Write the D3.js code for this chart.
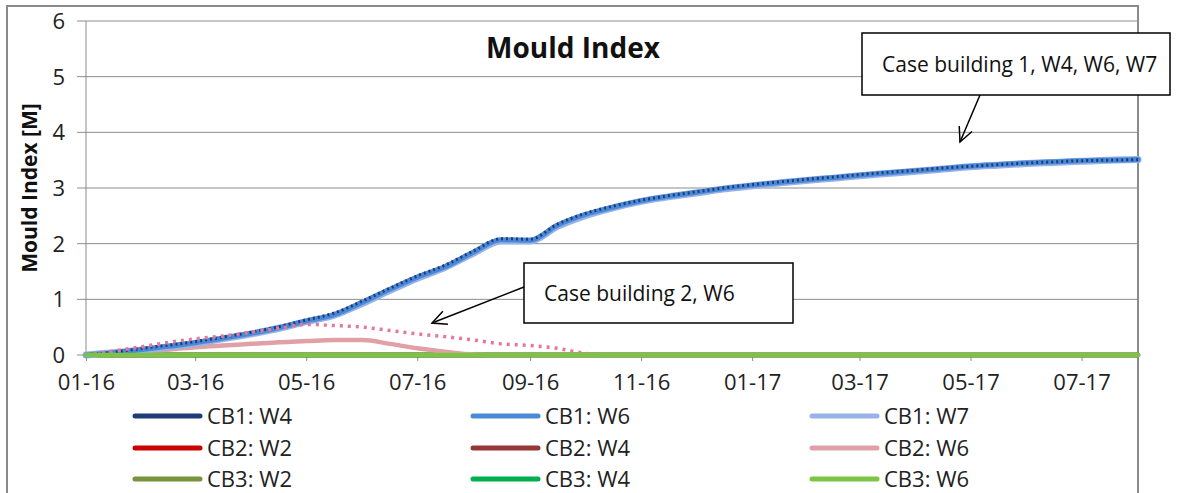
<!DOCTYPE html>
<html>
<head>
<meta charset="utf-8">
<script src="https://cdn.jsdelivr.net/npm/d3@7"></script>
<style>
  body { margin: 0; background: #fff; }
  svg { display: block; font-family: "Open Sans", sans-serif; }
</style>
</head>
<body>
<svg id="chart"></svg>
<script>
// semi-monthly sample dates
var dates = [
  "2016-01-01", "2016-01-16", "2016-02-01", "2016-02-16", "2016-03-01", "2016-03-16",
  "2016-04-01", "2016-04-16", "2016-05-01", "2016-05-16", "2016-06-01", "2016-06-16",
  "2016-07-01", "2016-07-16", "2016-08-01", "2016-08-16", "2016-09-01", "2016-09-16",
  "2016-10-01", "2016-10-16", "2016-11-01", "2016-11-16", "2016-12-01", "2016-12-16",
  "2017-01-01", "2017-01-16", "2017-02-01", "2017-02-16", "2017-03-01", "2017-03-16",
  "2017-04-01", "2017-04-16", "2017-05-01", "2017-05-16", "2017-06-01", "2017-06-16",
  "2017-07-01", "2017-07-16", "2017-08-01"
];

var cb1W4 = [0, 0.05, 0.12, 0.18, 0.24, 0.32, 0.41, 0.51, 0.63, 0.75, 0.97, 1.2, 1.42, 1.61, 1.87, 2.09,
  2.08, 2.35, 2.54, 2.67, 2.78, 2.86, 2.93, 3.0, 3.06, 3.11, 3.16, 3.2, 3.24, 3.28, 3.32, 3.36,
  3.39, 3.42, 3.45, 3.47, 3.49, 3.5, 3.51];
var cb1W6 = [0, 0.04, 0.1, 0.16, 0.22, 0.3, 0.39, 0.49, 0.61, 0.72, 0.95, 1.18, 1.4, 1.58, 1.85, 2.07,
  2.06, 2.33, 2.52, 2.65, 2.77, 2.85, 2.92, 2.99, 3.05, 3.1, 3.15, 3.19, 3.23, 3.27, 3.31, 3.35,
  3.39, 3.42, 3.45, 3.47, 3.49, 3.5, 3.51];
var cb1W7 = [0, 0.04, 0.09, 0.15, 0.21, 0.29, 0.38, 0.48, 0.6, 0.71, 0.93, 1.16, 1.38, 1.57, 1.83, 2.05,
  2.05, 2.31, 2.5, 2.64, 2.76, 2.84, 2.91, 2.98, 3.04, 3.09, 3.14, 3.18, 3.22, 3.26, 3.3, 3.34,
  3.38, 3.41, 3.44, 3.46, 3.48, 3.5, 3.51];
var cb2W6 = [0, 0.03, 0.07, 0.1, 0.14, 0.17, 0.2, 0.23, 0.25, 0.27, 0.27, 0.2, 0.12, 0.06, 0.01, 0,
  0, 0, 0, 0, 0, 0, 0, 0, 0, 0, 0, 0, 0, 0, 0, 0, 0, 0, 0, 0, 0, 0, 0];
var cb2W6Dotted = [0, 0.07, 0.15, 0.23, 0.29, 0.34, 0.41, 0.48, 0.55, 0.53, 0.5, 0.44, 0.38, 0.33, 0.27, 0.2,
  0.17, 0.12, 0.03, 0, 0, 0, 0, 0, 0, 0, 0, 0, 0, 0, 0, 0, 0, 0, 0, 0, 0, 0, 0];
var zeros = [0, 0, 0, 0, 0, 0, 0, 0, 0, 0, 0, 0, 0, 0, 0, 0, 0, 0, 0, 0, 0, 0, 0, 0, 0, 0, 0, 0, 0, 0,
  0, 0, 0, 0, 0, 0, 0, 0, 0];

var seriesNames = ["CB1: W4", "CB1: W6", "CB1: W7", "CB2: W2", "CB2: W4", "CB2: W6", "CB3: W2", "CB3: W4", "CB3: W6"];
var seriesColors = ["#1f3b78", "#4a89d6", "#98b2ea", "#cc0000", "#953735", "#e0a0a6", "#77933c", "#00b050", "#7cc443"];
var seriesValues = [cb1W4, cb1W6, cb1W7, zeros, zeros, cb2W6, zeros, zeros, zeros];

var tickDates = ["2016-01-01", "2016-03-01", "2016-05-01", "2016-07-01", "2016-09-01",
  "2016-11-01", "2017-01-01", "2017-03-01", "2017-05-01", "2017-07-01"];
var tickLabels = ["01-16", "03-16", "05-16", "07-16", "09-16", "11-16", "01-17", "03-17", "05-17", "07-17"];
var yTicks = [0, 1, 2, 3, 4, 5, 6];

var width = 1198, height = 493;
var plot = { left: 86, right: 1138, top: 21, bottom: 355 };
var parse = d3.timeParse("%Y-%m-%d");

var svg = d3.select("#chart").attr("width", width).attr("height", height);

var xScale = d3.scaleTime()
  .domain([parse("2016-01-01"), parse("2017-08-01")])
  .range([plot.left, plot.right]);
var yScale = d3.scaleLinear().domain([0, 6]).range([plot.bottom, plot.top]);

// chart frame
svg.append("path")
  .attr("d", "M7,500V6H1138V500")
  .attr("fill", "none")
  .attr("stroke", "#8a8a8a")
  .attr("stroke-width", 2);

// gridlines
svg.append("g")
  .selectAll("line")
  .data(yTicks)
  .enter()
  .append("line")
  .attr("x1", plot.left - 9)
  .attr("x2", plot.right)
  .attr("y1", (d) => yScale(d))
  .attr("y2", (d) => yScale(d))
  .attr("stroke", "#8c8c8c")
  .attr("stroke-width", 1);

svg.append("line")
  .attr("x1", plot.left).attr("x2", plot.left)
  .attr("y1", plot.top).attr("y2", plot.bottom)
  .attr("stroke", "#8c8c8c");

// y tick labels
svg.append("g")
  .selectAll("text")
  .data(yTicks)
  .enter()
  .append("text")
  .attr("x", 65)
  .attr("y", (d) => yScale(d) + 8)
  .attr("text-anchor", "end")
  .attr("font-size", 22)
  .attr("fill", "#222")
  .text((d) => d);

// x axis
var xAxisgen = d3.axisBottom(xScale)
  .tickValues(tickDates.map(parse))
  .tickFormat((d, i) => tickLabels[i])
  .tickSize(6)
  .tickPadding(13);

var xAxis = svg.append("g")
  .attr("transform", "translate(0," + plot.bottom + ")")
  .call(xAxisgen);
xAxis.select(".domain").attr("stroke", "#8c8c8c");
xAxis.selectAll(".tick line").attr("stroke", "#8c8c8c");
xAxis.selectAll(".tick text")
  .attr("font-size", 22)
  .attr("font-family", "'Open Sans', sans-serif")
  .attr("fill", "#222");

// lines
var line = d3.line()
  .x((d) => xScale(d.date))
  .y((d) => yScale(d.value))
  .curve(d3.curveMonotoneX);

function toPoints(values) {
  return values.map((v, i) => ({ date: parse(dates[i]), value: v }));
}

var drawOrder = [3, 4, 6, 7, 5, 2, 1, 0, 8];
var lines = svg.append("g").attr("fill", "none").attr("stroke-linecap", "round");

drawOrder.forEach(function (k) {
  if (k === 8) {
    lines.append("path")
      .attr("d", line(toPoints(cb2W6Dotted)))
      .attr("stroke", "#e3789a")
      .attr("stroke-width", 3.5)
      .attr("stroke-linecap", "butt")
      .attr("stroke-dasharray", "3,5");
  }
  var p = lines.append("path")
    .attr("d", line(toPoints(seriesValues[k])))
    .attr("stroke", seriesColors[k])
    .attr("stroke-width", k === 2 ? 7 : 4.5);
  if (k === 1) p.attr("stroke-width", 5);
  if (k === 0) {
    p.attr("stroke-width", 3).attr("stroke-dasharray", "2,3").attr("stroke-linecap", "butt");
  }
});

// title
svg.append("text")
  .attr("x", 573)
  .attr("y", 58)
  .attr("text-anchor", "middle")
  .attr("font-size", 28)
  .attr("font-weight", "bold")
  .attr("fill", "#111")
  .text("Mould Index");

svg.append("text")
  .attr("transform", "translate(37,188) rotate(-90)")
  .attr("text-anchor", "middle")
  .attr("font-size", 21)
  .attr("font-weight", "bold")
  .attr("fill", "#111")
  .text("Mould Index [M]");

// legend
var legendCols = [135, 473, 812];
var legendRows = [416, 448, 479];
var legend = svg.append("g")
  .selectAll("g")
  .data(seriesNames)
  .enter()
  .append("g")
  .attr("transform", (d, i) => "translate(" + legendCols[i % 3] + "," + legendRows[Math.floor(i / 3)] + ")");

legend.append("line")
  .attr("x1", 0).attr("x2", 65)
  .attr("stroke", (d, i) => seriesColors[i])
  .attr("stroke-width", 5)
  .attr("stroke-linecap", "round");

legend.append("text")
  .attr("x", 72)
  .attr("y", 8)
  .attr("font-size", 22)
  .attr("fill", "#222")
  .text((d) => d);

// annotations
function callout(box, label, from, to) {
  var g = svg.append("g");
  g.append("rect")
    .attr("x", box[0]).attr("y", box[1])
    .attr("width", box[2]).attr("height", box[3])
    .attr("fill", "#fff")
    .attr("stroke", "#000")
    .attr("stroke-width", 1.5);
  g.append("text")
    .attr("x", box[0] + 20)
    .attr("y", box[1] + box[3] / 2 + 8)
    .attr("font-size", 21)
    .attr("fill", "#111")
    .text(label);
  var ang = Math.atan2(to[1] - from[1], to[0] - from[0]);
  var len = 16, spread = 0.45;
  g.append("line")
    .attr("x1", from[0]).attr("y1", from[1])
    .attr("x2", to[0]).attr("y2", to[1])
    .attr("stroke", "#000").attr("stroke-width", 1.5);
  g.append("path")
    .attr("d", "M" + (to[0] - len * Math.cos(ang - spread)) + "," + (to[1] - len * Math.sin(ang - spread)) +
      "L" + to[0] + "," + to[1] +
      "L" + (to[0] - len * Math.cos(ang + spread)) + "," + (to[1] - len * Math.sin(ang + spread)))
    .attr("fill", "none")
    .attr("stroke", "#000").attr("stroke-width", 1.5);
}

callout([862, 33, 308, 62], "Case building 1, W4, W6, W7", [980, 95], [960, 142]);
callout([524, 263, 269, 60], "Case building 2, W6", [524, 287], [432, 323]);
</script>
</body>
</html>
